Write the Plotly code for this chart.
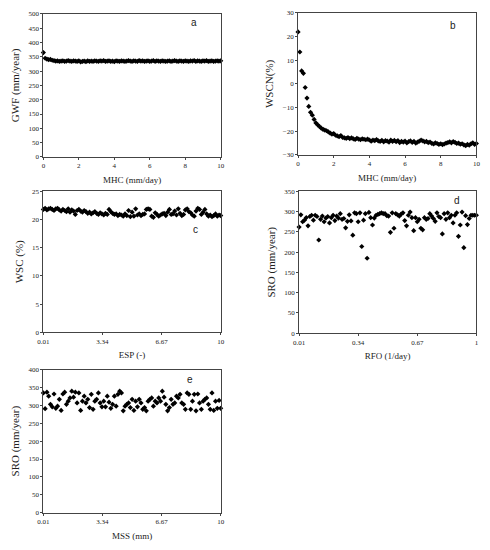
import plotly.graph_objects as go

# panel a / b : sweep of MHC (mm/day)
MHC = [0, 0.1, 0.2, 0.3, 0.4, 0.5, 0.6, 0.7, 0.8, 0.9,
       1, 1.1, 1.2, 1.3, 1.4, 1.5, 1.6, 1.7, 1.8, 1.9,
       2, 2.1, 2.2, 2.3, 2.4, 2.5, 2.6, 2.7, 2.8, 2.9,
       3, 3.1, 3.2, 3.3, 3.4, 3.5, 3.6, 3.7, 3.8, 3.9,
       4, 4.1, 4.2, 4.3, 4.4, 4.5, 4.6, 4.7, 4.8, 4.9,
       5, 5.1, 5.2, 5.3, 5.4, 5.5, 5.6, 5.7, 5.8, 5.9,
       6, 6.1, 6.2, 6.3, 6.4, 6.5, 6.6, 6.7, 6.8, 6.9,
       7, 7.1, 7.2, 7.3, 7.4, 7.5, 7.6, 7.7, 7.8, 7.9,
       8, 8.1, 8.2, 8.3, 8.4, 8.5, 8.6, 8.7, 8.8, 8.9,
       9, 9.1, 9.2, 9.3, 9.4, 9.5, 9.6, 9.7, 9.8, 9.9,
       10]

GWF = [365, 345, 342, 340, 341, 338, 337, 335, 336, 334,
       335, 336, 334, 335, 337, 335, 334, 336, 335, 334,
       336, 332, 334, 335, 333, 336, 334, 335, 334, 336,
       335, 334, 336, 335, 337, 334, 335, 336, 334, 335,
       333, 336, 335, 334, 336, 335, 334, 335, 337, 335,
       334, 336, 335, 334, 337, 335, 336, 334, 335, 336,
       334, 335, 337, 334, 336, 335, 334, 336, 335, 334,
       335, 336, 334, 335, 337, 335, 334, 336, 335, 334,
       336, 335, 334, 336, 335, 337, 334, 336, 335, 334,
       336, 335, 337, 334, 335, 336, 334, 335, 336, 335,
       336]

WSCN = [22, 13.5, 5.5, 4.5, -1.5, -6, -9.5, -12, -13.2, -15,
        -16.5, -17.3, -18, -18.7, -19.2, -19.5, -19.8, -20.3, -20.8, -21.2,
        -21, -21.7, -22, -22.3, -21.8, -22.6, -22.8, -23, -22.7, -23.1,
        -22.8, -23.2, -23.5, -23, -23.3, -23.6, -23.2, -23.4, -23.6, -23.3,
        -23.7, -24.2, -23.8, -24, -23.5, -24.1, -24.3, -23.9, -24.5, -24,
        -24.2, -24.6, -23.8, -24.3, -23.9, -24.4, -24, -24.8, -24.3, -24.6,
        -24.2, -24.9, -24.4, -24.1, -24.7, -24.3, -25, -24.6, -24.2, -23.8,
        -24.1, -24.5, -24.3, -24.8, -24.6, -25.1, -25.4, -24.9, -25.2, -25.6,
        -25.3, -25.7, -25.4, -25, -24.8, -24.5, -24.9, -24.4, -24.7, -25.2,
        -25, -25.5, -25.3, -25.8, -26.1, -25.6, -25.9, -25.3, -24.9, -25.6,
        -25.2]

# panel c / e : ESP (-) and MSS (mm) sweeps share the same grid
ESP = [0.01, 0.11, 0.21, 0.31, 0.41, 0.51, 0.61, 0.71, 0.81, 0.91,
       1.01, 1.11, 1.21, 1.31, 1.41, 1.51, 1.61, 1.71, 1.81, 1.91,
       2.01, 2.11, 2.21, 2.31, 2.41, 2.51, 2.61, 2.71, 2.81, 2.91,
       3.01, 3.11, 3.21, 3.31, 3.41, 3.51, 3.61, 3.71, 3.81, 3.91,
       4.01, 4.11, 4.21, 4.31, 4.41, 4.51, 4.61, 4.71, 4.81, 4.91,
       5.01, 5.11, 5.21, 5.31, 5.41, 5.51, 5.61, 5.71, 5.81, 5.91,
       6.01, 6.11, 6.21, 6.31, 6.41, 6.51, 6.61, 6.71, 6.81, 6.91,
       7.01, 7.11, 7.21, 7.31, 7.41, 7.51, 7.61, 7.71, 7.81, 7.91,
       8.01, 8.11, 8.21, 8.31, 8.41, 8.51, 8.61, 8.71, 8.81, 8.91,
       9.01, 9.11, 9.21, 9.31, 9.41, 9.51, 9.61, 9.71, 9.81, 9.91,
       10]
MSS = ESP

WSC = [21.8, 22.0, 21.7, 21.9, 22.0, 21.8, 21.6, 21.9, 22.0, 21.7,
       21.5, 21.8, 21.6, 21.4, 21.9, 21.3, 21.7, 21.5, 20.9, 21.6,
       21.8, 21.5, 21.3, 21.6, 21.4, 21.1, 21.3, 21.0, 21.2, 21.4,
       21.1, 20.9, 21.2, 21.0, 20.8, 21.1, 20.9, 21.8, 21.4, 21.1,
       20.9, 21.0, 20.7, 20.9, 20.8, 20.6, 21.0, 20.7, 21.6, 20.5,
       21.3, 20.6, 21.9, 20.8, 21.0, 20.7, 20.9, 21.0, 21.8, 21.9,
       21.8, 20.6, 20.4, 21.2, 20.9, 20.6, 20.8, 21.0, 21.1, 20.7,
       21.3, 21.8, 20.9, 21.0, 21.5, 20.8, 21.9, 21.1, 20.7, 20.9,
       21.7, 21.9, 21.4, 21.2, 20.8, 20.6, 21.5, 22.0, 21.8, 20.9,
       21.3, 21.8, 21.0, 20.6, 20.8, 20.5, 20.7, 21.0, 20.6, 20.8,
       20.7]

SRO_MSS = [335, 291, 337, 326, 303, 296, 332, 292, 298, 317,
           286, 332, 337, 303, 312, 321, 340, 323, 337, 307,
           335, 286, 312, 326, 307, 317, 294, 331, 289, 312,
           317, 335, 307, 296, 312, 296, 326, 309, 292, 303,
           326, 298, 331, 340, 335, 285, 298, 303, 307, 294,
           317, 286, 312, 296, 317, 307, 289, 294, 285, 312,
           317, 321, 298, 312, 307, 321, 312, 340, 323, 303,
           285, 294, 317, 303, 307, 326, 321, 331, 307, 303,
           289, 335, 331, 289, 312, 331, 285, 332, 307, 289,
           312, 317, 321, 303, 289, 335, 286, 312, 292, 314,
           292]

# panel d : RFO (1/day)
RFO = [0.01, 0.02, 0.03, 0.04, 0.05, 0.06, 0.07, 0.08, 0.09, 0.10,
       0.11, 0.12, 0.13, 0.14, 0.15, 0.16, 0.17, 0.18, 0.19, 0.20,
       0.21, 0.22, 0.23, 0.24, 0.25, 0.26, 0.27, 0.28, 0.29, 0.30,
       0.31, 0.32, 0.33, 0.34, 0.35, 0.36, 0.37, 0.38, 0.39, 0.40,
       0.41, 0.42, 0.43, 0.44, 0.45, 0.46, 0.47, 0.48, 0.49, 0.50,
       0.51, 0.52, 0.53, 0.54, 0.55, 0.56, 0.57, 0.58, 0.59, 0.60,
       0.61, 0.62, 0.63, 0.64, 0.65, 0.66, 0.67, 0.68, 0.69, 0.70,
       0.71, 0.72, 0.73, 0.74, 0.75, 0.76, 0.77, 0.78, 0.79, 0.80,
       0.81, 0.82, 0.83, 0.84, 0.85, 0.86, 0.87, 0.88, 0.89, 0.90,
       0.91, 0.92, 0.93, 0.94, 0.95, 0.96, 0.97, 0.98, 0.99, 1.00]

SRO_RFO = [262, 292, 275, 279, 285, 265, 288, 291, 279, 291,
           288, 230, 281, 289, 275, 284, 288, 272, 285, 291,
           278, 289, 284, 295, 281, 283, 260, 276, 292, 277,
           242, 297, 295, 275, 297, 214, 279, 295, 185, 298,
           285, 267, 284, 291, 293, 295, 297, 295, 295, 290,
           289, 249, 297, 259, 295, 292, 289, 294, 297, 278,
           265, 291, 299, 285, 253, 285, 275, 281, 259, 255,
           285, 281, 283, 295, 289, 283, 276, 297, 288, 285,
           245, 295, 281, 297, 285, 291, 272, 291, 297, 239,
           267, 299, 211, 290, 268, 283, 291, 291, 291, 291]

SWEEP_TICKS = ["0.01", "3.34", "6.67", "10"]
RFO_TICKS = ["0.01", "0.34", "0.67", "1"]

serif = "Liberation Serif"
sans = "Liberation Sans"

# name, x, y, xtitle, ytitle, label pos, x domain, y domain
# (page has an 8px body margin, domains are shifted to compensate)
panels = [
    ("a", MHC, GWF, "MHC (mm/day)", "GWF (mm/year)", (8.5, 469),
     [0.0612, 0.4306], [0.7327, 0.9964]),
    ("b", MHC, WSCN, "MHC (mm/day)", "WSCN(%)", (8.7, 24.6),
     [0.5918, 0.9633], [0.7364, 0.9982]),
    ("c", ESP, WSC, "ESP (-)", "WSC (%)", (8.56, 18.2),
     [0.0612, 0.4306], [0.4091, 0.6691]),
    ("d", RFO, SRO_RFO, "RFO (1/day)", "SRO (mm/year)", (0.89, 328),
     [0.5939, 0.9633], [0.4073, 0.6691]),
    ("e", MSS, SRO_MSS, "MSS (mm)", "SRO (mm/year)", (8.29, 372),
     [0.0612, 0.4306], [0.0764, 0.34]),
]

yaxes_cfg = {
    "a": dict(range=[0, 500], dtick=50),
    "b": dict(range=[-30, 30], dtick=10),
    "c": dict(range=[0, 25], dtick=5),
    "d": dict(range=[0, 350], dtick=50),
    "e": dict(range=[0, 400], dtick=50),
}
xaxes_cfg = {
    "a": dict(range=[0, 10], dtick=2),
    "b": dict(range=[0, 10], dtick=2),
    "c": dict(range=[0.01, 10], tickmode="array",
              tickvals=[float(t) for t in SWEEP_TICKS], ticktext=SWEEP_TICKS),
    "d": dict(range=[0.01, 1], tickmode="array",
              tickvals=[float(t) for t in RFO_TICKS], ticktext=RFO_TICKS),
    "e": dict(range=[0.01, 10], tickmode="array",
              tickvals=[float(t) for t in SWEEP_TICKS], ticktext=SWEEP_TICKS),
}

fig = go.Figure()
layout = {}
annotations = []
axis_common = dict(showgrid=False, zeroline=False, showline=True, mirror=True,
                   linecolor="#444", linewidth=1, ticks="outside", ticklen=2,
                   tickcolor="#444", ticklabeloverflow="allow",
                   tickfont=dict(family=serif, size=7, color="#222"))

for i, (name, xs, ys, xt, yt, lab, xdom, ydom) in enumerate(panels):
    n = "" if i == 0 else str(i + 1)
    fig.add_trace(go.Scatter(
        x=xs, y=ys, mode="markers", xaxis="x" + n, yaxis="y" + n,
        marker=dict(symbol="diamond", size=4, color="black"),
        cliponaxis=False, showlegend=False))
    layout["xaxis" + n] = dict(
        domain=xdom, anchor="y" + n,
        title=dict(text=xt, font=dict(family=serif, size=9, color="#222"),
                   standoff=7),
        **xaxes_cfg[name], **axis_common)
    layout["yaxis" + n] = dict(
        domain=ydom, anchor="x" + n,
        title=dict(text=yt, font=dict(family=serif, size=11, color="#222"),
                   standoff=6),
        **yaxes_cfg[name], **axis_common)
    annotations.append(dict(
        x=lab[0], y=lab[1], xref="x" + n, yref="y" + n, text=name,
        showarrow=False, font=dict(family=sans, size=10, color="#222")))

fig.update_layout(
    width=490, height=550,
    margin=dict(l=0, r=0, t=0, b=0),
    paper_bgcolor="white", plot_bgcolor="white",
    annotations=annotations,
    **layout)

fig.write_html("out.html")
